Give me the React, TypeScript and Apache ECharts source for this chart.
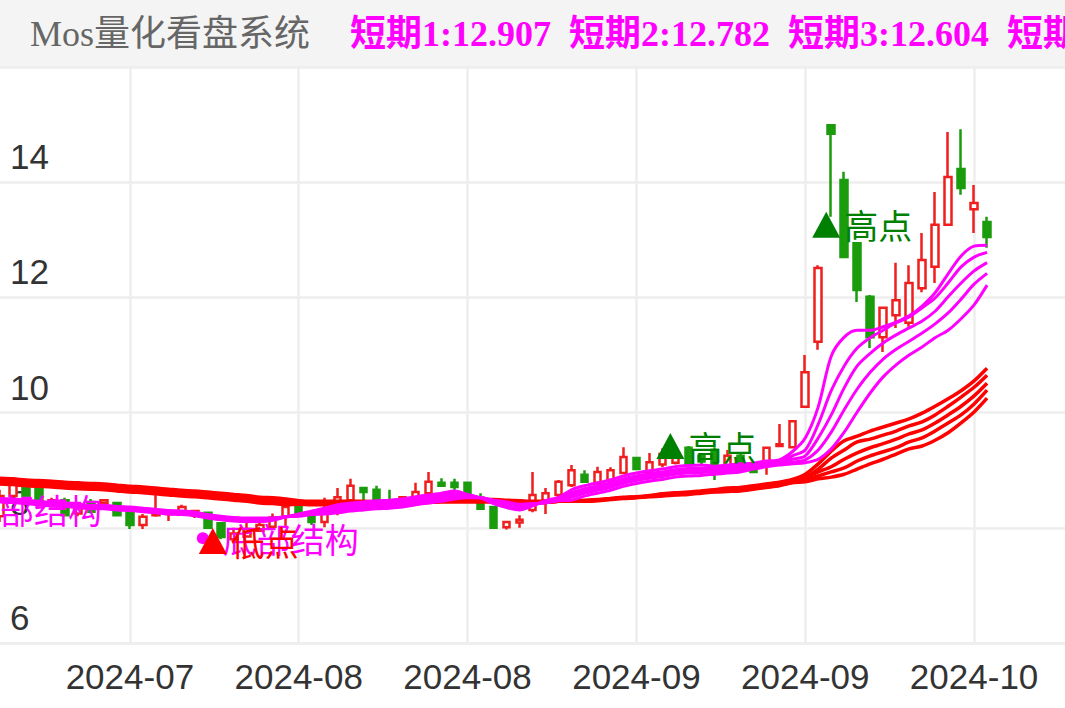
import React, { useEffect, useRef } from 'react';
import * as echarts from 'echarts';

// ---------- categories (one per day) ----------
const dates = [
  '2024-07-20','2024-07-21','2024-07-22','2024-07-23','2024-07-24','2024-07-25','2024-07-26','2024-07-27','2024-07-28','2024-07-29',
  '2024-07-30','2024-07-31','2024-08-01','2024-08-02','2024-08-03','2024-08-04','2024-08-05','2024-08-06','2024-08-07','2024-08-08',
  '2024-08-09','2024-08-10','2024-08-11','2024-08-12','2024-08-13','2024-08-14','2024-08-15','2024-08-16','2024-08-17','2024-08-18',
  '2024-08-19','2024-08-20','2024-08-21','2024-08-22','2024-08-23','2024-08-24','2024-08-25','2024-08-26','2024-08-27','2024-08-28',
  '2024-08-29','2024-08-30','2024-08-31','2024-09-01','2024-09-02','2024-09-03','2024-09-04','2024-09-05','2024-09-06','2024-09-07',
  '2024-09-08','2024-09-09','2024-09-10','2024-09-11','2024-09-12','2024-09-13','2024-09-14','2024-09-15','2024-09-16','2024-09-17',
  '2024-09-18','2024-09-19','2024-09-20','2024-09-21','2024-09-22','2024-09-23','2024-09-24','2024-09-25','2024-09-26','2024-09-27',
  '2024-09-28','2024-09-29','2024-09-30','2024-10-01','2024-10-02','2024-10-03','2024-10-04','2024-10-05','2024-10-06','2024-10-07',
  '2024-10-08','2024-10-09','2024-10-10',
];

// ---------- K-line values ----------
const openPrices = [
  8.20, 8.55, 8.70, 8.67, 8.40, 8.48, 8.25, 8.45, 8.43, 8.43,
  8.27, 8.05, 8.22, 8.24, 8.27, 8.22, 8.26, 8.08, 7.80, 7.85,
  7.95, 8.02, 8.19, 8.36, 8.27, 8.10, 8.27, 8.48, 8.69, 8.66,
  8.48, 8.45, 8.48, 8.60, 8.78, 8.78, 8.78, 8.52, 8.36, 8.01,
  8.09, 8.31, 8.48, 8.57, 8.74, 8.92, 8.78, 8.83, 8.95, 9.21,
  8.95, 9.10, 9.13, 9.39, 9.25, 9.35, 9.05, 9.25, 9.09, 9.09,
  9.42, 9.40, 10.10, 11.23, 14.99, 14.04, 12.94, 12.01, 11.31, 11.69,
  11.56, 12.16, 12.53, 13.26, 14.23, 13.53, 13.31,
];
const closePrices = [
  8.55, 8.75, 8.55, 8.40, 8.48, 8.22, 8.35, 8.28, 8.48, 8.22,
  8.05, 8.19, 8.27, 8.29, 8.36, 8.29, 8.00, 7.84, 7.90, 7.98,
  8.05, 8.18, 8.36, 8.22, 8.10, 8.26, 8.53, 8.73, 8.62, 8.48,
  8.45, 8.53, 8.62, 8.80, 8.73, 8.71, 8.57, 8.33, 8.00, 8.10,
  8.14, 8.57, 8.60, 8.80, 9.00, 8.80, 8.97, 9.00, 9.23, 9.02,
  9.14, 9.28, 9.30, 9.09, 9.15, 9.05, 9.25, 9.10, 8.97, 9.39,
  9.45, 9.85, 10.70, 12.51, 14.84, 12.70, 12.13, 11.31, 11.82, 11.95,
  12.25, 12.65, 13.26, 14.09, 13.90, 13.64, 13.05,
];
const lowPrices = [
  8.10, 8.45, 8.50, 8.36, 8.35, 8.20, 8.20, 8.25, 8.40, 8.20,
  7.98, 7.98, 8.19, 8.12, 8.24, 8.17, 7.98, 7.80, 7.78, 7.85,
  7.95, 8.00, 8.02, 8.19, 8.05, 8.01, 8.22, 8.43, 8.43, 8.45,
  8.45, 8.45, 8.45, 8.52, 8.71, 8.64, 8.57, 8.33, 8.00, 7.97,
  8.00, 8.27, 8.24, 8.53, 8.71, 8.80, 8.74, 8.80, 8.95, 9.02,
  8.93, 9.05, 9.10, 9.05, 9.10, 8.83, 9.00, 9.05, 8.95, 8.92,
  9.40, 9.38, 10.10, 11.09, 13.40, 12.70, 11.92, 11.12, 11.05, 11.47,
  11.49, 12.09, 12.25, 13.26, 13.78, 13.12, 12.86,
];
const highPrices = [
  8.66, 8.82, 8.75, 8.70, 8.52, 8.52, 8.40, 8.50, 8.50, 8.45,
  8.28, 8.24, 8.60, 8.30, 8.40, 8.31, 8.28, 8.10, 8.00, 8.10,
  8.15, 8.25, 8.40, 8.40, 8.31, 8.52, 8.69, 8.85, 8.69, 8.73,
  8.66, 8.53, 8.78, 8.97, 8.86, 8.85, 8.78, 8.60, 8.38, 8.12,
  8.22, 8.97, 8.69, 8.83, 9.09, 9.00, 9.06, 9.05, 9.40, 9.21,
  9.30, 9.38, 9.35, 9.42, 9.30, 9.40, 9.35, 9.30, 9.12, 9.39,
  9.80, 9.87, 11.00, 12.56, 14.99, 14.18, 12.94, 12.04, 11.82, 12.60,
  12.56, 13.12, 13.83, 14.87, 14.92, 13.95, 13.40,
];

// ---------- short-term lines (magenta) ----------
const short1 = [
  8.45, 8.44, 8.42, 8.40, 8.38, 8.37, 8.35, 8.33, 8.33, 8.31,
  8.30, 8.28, 8.26, 8.24, 8.23, 8.21, 8.17, 8.14, 8.12, 8.11,
  8.11, 8.13, 8.19, 8.24, 8.29, 8.34, 8.40, 8.43, 8.45, 8.47,
  8.48, 8.50, 8.54, 8.57, 8.60, 8.64, 8.58, 8.52, 8.42, 8.35,
  8.31, 8.38, 8.47, 8.53, 8.66, 8.73, 8.78, 8.83, 8.90, 8.95,
  8.99, 9.02, 9.06, 9.08, 9.09, 9.07, 9.09, 9.11, 9.12, 9.16,
  9.18, 9.32, 9.56, 10.10, 10.98, 11.31, 11.43, 11.43, 11.49, 11.57,
  11.68, 11.85, 12.08, 12.41, 12.72, 12.89, 12.907,
];
const short2 = [
  8.46, 8.45, 8.43, 8.41, 8.39, 8.38, 8.36, 8.34, 8.34, 8.32,
  8.31, 8.29, 8.27, 8.25, 8.24, 8.22, 8.18, 8.15, 8.13, 8.12,
  8.12, 8.14, 8.19, 8.23, 8.28, 8.32, 8.36, 8.39, 8.41, 8.43,
  8.44, 8.46, 8.50, 8.53, 8.56, 8.60, 8.57, 8.52, 8.43, 8.37,
  8.33, 8.39, 8.46, 8.52, 8.61, 8.68, 8.73, 8.78, 8.85, 8.90,
  8.94, 8.97, 9.01, 9.03, 9.04, 9.03, 9.05, 9.07, 9.10, 9.14,
  9.14, 9.25, 9.35, 9.80, 10.38, 10.81, 11.12, 11.30, 11.43, 11.56,
  11.66, 11.82, 11.99, 12.25, 12.53, 12.70, 12.782,
];
const short3 = [
  8.48, 8.47, 8.45, 8.43, 8.41, 8.40, 8.38, 8.36, 8.36, 8.34,
  8.33, 8.31, 8.29, 8.27, 8.26, 8.24, 8.20, 8.17, 8.15, 8.14,
  8.14, 8.15, 8.19, 8.22, 8.26, 8.29, 8.33, 8.36, 8.38, 8.40,
  8.41, 8.43, 8.47, 8.50, 8.53, 8.57, 8.55, 8.52, 8.45, 8.40,
  8.36, 8.40, 8.45, 8.50, 8.57, 8.64, 8.69, 8.74, 8.81, 8.86,
  8.90, 8.93, 8.97, 8.99, 9.00, 9.00, 9.02, 9.04, 9.07, 9.11,
  9.13, 9.19, 9.25, 9.56, 9.96, 10.43, 10.81, 11.03, 11.21, 11.35,
  11.47, 11.59, 11.76, 12.01, 12.25, 12.46, 12.604,
];
const short4 = [
  8.50, 8.49, 8.47, 8.45, 8.43, 8.42, 8.40, 8.38, 8.38, 8.36,
  8.35, 8.33, 8.31, 8.29, 8.28, 8.26, 8.22, 8.19, 8.17, 8.16,
  8.16, 8.16, 8.19, 8.21, 8.24, 8.26, 8.30, 8.33, 8.35, 8.37,
  8.38, 8.40, 8.44, 8.47, 8.50, 8.54, 8.53, 8.52, 8.47, 8.43,
  8.39, 8.41, 8.44, 8.48, 8.53, 8.60, 8.65, 8.70, 8.77, 8.82,
  8.86, 8.89, 8.93, 8.95, 8.96, 8.97, 8.99, 9.01, 9.04, 9.08,
  9.11, 9.14, 9.18, 9.35, 9.66, 10.05, 10.41, 10.70, 10.93, 11.10,
  11.24, 11.38, 11.54, 11.73, 11.97, 12.23, 12.418,
];
const short5 = [
  8.51, 8.50, 8.48, 8.46, 8.44, 8.43, 8.41, 8.39, 8.39, 8.37,
  8.36, 8.34, 8.32, 8.30, 8.29, 8.27, 8.23, 8.20, 8.18, 8.17,
  8.17, 8.17, 8.19, 8.20, 8.23, 8.24, 8.26, 8.29, 8.31, 8.33,
  8.34, 8.36, 8.40, 8.43, 8.46, 8.50, 8.52, 8.52, 8.48, 8.45,
  8.41, 8.42, 8.43, 8.47, 8.48, 8.55, 8.60, 8.65, 8.72, 8.77,
  8.81, 8.84, 8.88, 8.90, 8.91, 8.93, 8.95, 8.97, 9.02, 9.06,
  9.09, 9.11, 9.13, 9.19, 9.37, 9.66, 10.01, 10.34, 10.62, 10.83,
  11.00, 11.14, 11.30, 11.43, 11.63, 11.87, 12.213,
];

// ---------- long-term lines (red) ----------
const long1 = [
  8.76, 8.75, 8.73, 8.72, 8.71, 8.69, 8.68, 8.67, 8.66, 8.64,
  8.62, 8.61, 8.59, 8.57, 8.55, 8.54, 8.52, 8.50, 8.48, 8.46,
  8.43, 8.42, 8.40, 8.41, 8.40, 8.40, 8.40, 8.40, 8.40, 8.41,
  8.41, 8.42, 8.43, 8.44, 8.45, 8.45, 8.45, 8.45, 8.45, 8.44,
  8.43, 8.44, 8.44, 8.46, 8.47, 8.48, 8.49, 8.51, 8.53, 8.54,
  8.56, 8.59, 8.61, 8.62, 8.64, 8.66, 8.69, 8.70, 8.73, 8.76,
  8.79, 8.84, 8.93, 9.11, 9.33, 9.51, 9.59, 9.68, 9.75, 9.82,
  9.89, 9.99, 10.11, 10.24, 10.38, 10.55, 10.77,
];
const long2 = [
  8.78, 8.77, 8.75, 8.74, 8.73, 8.71, 8.70, 8.69, 8.68, 8.66,
  8.64, 8.63, 8.61, 8.59, 8.57, 8.56, 8.54, 8.52, 8.50, 8.48,
  8.45, 8.44, 8.42, 8.42, 8.41, 8.41, 8.41, 8.41, 8.41, 8.42,
  8.42, 8.43, 8.44, 8.45, 8.46, 8.46, 8.46, 8.46, 8.46, 8.45,
  8.44, 8.45, 8.45, 8.46, 8.47, 8.47, 8.48, 8.50, 8.52, 8.53,
  8.55, 8.58, 8.60, 8.61, 8.63, 8.65, 8.68, 8.69, 8.72, 8.75,
  8.78, 8.83, 8.88, 9.02, 9.21, 9.35, 9.49, 9.54, 9.61, 9.68,
  9.77, 9.84, 9.96, 10.11, 10.27, 10.44, 10.65,
];
const long3 = [
  8.81, 8.80, 8.78, 8.77, 8.76, 8.74, 8.73, 8.72, 8.71, 8.69,
  8.67, 8.66, 8.64, 8.62, 8.60, 8.59, 8.57, 8.55, 8.53, 8.51,
  8.48, 8.47, 8.45, 8.44, 8.43, 8.43, 8.43, 8.43, 8.43, 8.43,
  8.43, 8.44, 8.45, 8.46, 8.47, 8.47, 8.47, 8.47, 8.47, 8.46,
  8.45, 8.45, 8.45, 8.46, 8.47, 8.47, 8.48, 8.50, 8.52, 8.53,
  8.55, 8.57, 8.59, 8.60, 8.62, 8.64, 8.66, 8.67, 8.70, 8.73,
  8.76, 8.81, 8.87, 8.97, 9.06, 9.19, 9.30, 9.39, 9.46, 9.54,
  9.63, 9.70, 9.82, 9.96, 10.11, 10.29, 10.51,
];
const long4 = [
  8.84, 8.83, 8.81, 8.80, 8.79, 8.77, 8.76, 8.75, 8.74, 8.72,
  8.70, 8.69, 8.67, 8.65, 8.63, 8.62, 8.60, 8.58, 8.56, 8.54,
  8.51, 8.50, 8.48, 8.46, 8.45, 8.45, 8.45, 8.45, 8.45, 8.44,
  8.44, 8.45, 8.46, 8.47, 8.48, 8.48, 8.48, 8.48, 8.48, 8.47,
  8.46, 8.45, 8.45, 8.46, 8.47, 8.47, 8.48, 8.50, 8.52, 8.53,
  8.55, 8.56, 8.58, 8.59, 8.61, 8.63, 8.64, 8.65, 8.68, 8.71,
  8.74, 8.79, 8.83, 8.90, 8.97, 9.04, 9.16, 9.25, 9.32, 9.39,
  9.49, 9.56, 9.68, 9.82, 9.96, 10.15, 10.39,
];
const long5 = [
  8.86, 8.85, 8.83, 8.82, 8.81, 8.79, 8.78, 8.77, 8.76, 8.74,
  8.72, 8.71, 8.69, 8.67, 8.65, 8.64, 8.62, 8.60, 8.58, 8.56,
  8.53, 8.52, 8.50, 8.47, 8.46, 8.46, 8.46, 8.46, 8.46, 8.45,
  8.45, 8.46, 8.47, 8.48, 8.49, 8.49, 8.49, 8.49, 8.49, 8.48,
  8.47, 8.46, 8.46, 8.46, 8.47, 8.46, 8.47, 8.49, 8.51, 8.52,
  8.54, 8.55, 8.57, 8.58, 8.60, 8.62, 8.63, 8.64, 8.67, 8.70,
  8.73, 8.78, 8.80, 8.85, 8.88, 8.93, 9.02, 9.11, 9.19, 9.28,
  9.37, 9.42, 9.52, 9.65, 9.82, 10.01, 10.25,
];

// ---------- annotations ----------
const structureIndex = [0, 16];
const structureValue = [8.31, 7.82];
const structureText = ['底部结构', '底部结构'];

const signalIndex = [16, 51, 63];
const signalValue = [7.77, 9.42, 13.26];
const signalText = ['低点', '高点', '高点'];

const shortLines = [short1, short2, short3, short4, short5];
const longLines = [long1, long2, long3, long4, long5];

const SERIF = "'Liberation Serif', 'Times New Roman', 'Noto Sans CJK SC', serif";
const SANS = "'Liberation Sans', Arial, Helvetica, sans-serif";
const CJK = "'Noto Sans CJK SC', sans-serif";

export default function App() {
  const ref = useRef<HTMLDivElement>(null);

  useEffect(() => {
    document.body.style.margin = '0';
    const chart = echarts.init(ref.current as HTMLDivElement, null, { renderer: 'svg' });

    const candleData = openPrices.map((o, i) => [o, closePrices[i], lowPrices[i], highPrices[i]]);
    const headerText = shortLines
      .map((s, k) => `短期${k + 1}:${s[s.length - 1].toFixed(3)}`)
      .concat(longLines.map((s, k) => `长期${k + 1}:${s[s.length - 1].toFixed(3)}`))
      .join('  ');

    const showIdx = (i: number) => i >= 10 && (i - 10) % 13 === 0;
    const gridLine = { color: '#eeeeee', width: 2.5 };

    const structureOffsets = [[-54, 0], [-5, 0]];
    const signalOffsets = [[5, 0], [8, 0], [8, 0]];
    const signalColors = ['#ff0000', '#008000', '#008000'];

    const option: any = {
      animation: false,
      backgroundColor: '#ffffff',
      graphic: [
        {
          type: 'rect',
          left: 0,
          top: 0,
          z: 0,
          silent: true,
          shape: { width: 1065, height: 67 },
          style: { fill: '#f4f4f4' },
        },
      ],
      title: [
        {
          text: 'Mos量化看盘系统',
          left: 30,
          top: 16,
          padding: 0,
          z: 10,
          textStyle: { fontSize: 36, fontWeight: 'normal', color: '#666666', fontFamily: SERIF },
        },
        {
          text: headerText,
          left: 350,
          top: 16,
          padding: 0,
          z: 10,
          textStyle: { fontSize: 36, fontWeight: 'bold', color: '#ff00ff', fontFamily: SERIF },
        },
      ],
      grid: { left: 0, right: 0, top: 67, bottom: 65 },
      xAxis: {
        type: 'category',
        data: dates,
        boundaryGap: false,
        axisLine: { show: true, lineStyle: gridLine },
        axisTick: { show: false },
        axisLabel: {
          interval: (i: number) => showIdx(i),
          formatter: (v: string) => v.slice(0, 7),
          fontSize: 35,
          color: '#333333',
          fontFamily: SANS,
          margin: 16,
        },
        splitLine: { show: true, interval: (i: number) => showIdx(i), lineStyle: gridLine },
      },
      yAxis: {
        type: 'value',
        min: 6,
        max: 16,
        interval: 2,
        position: 'left',
        axisLine: { show: false },
        axisTick: { show: false },
        axisLabel: {
          inside: true,
          margin: 10,
          verticalAlign: 'bottom',
          padding: [0, 0, 8, 0],
          fontSize: 35,
          color: '#333333',
          fontFamily: SANS,
          showMaxLabel: false,
        },
        splitLine: { show: true, lineStyle: gridLine },
      },
      series: [
        {
          type: 'candlestick',
          data: candleData,
          barWidth: 7,
          silent: true,
          itemStyle: {
            color: '#ffffff',
            color0: '#1a9c0c',
            borderColor: '#f01e1e',
            borderColor0: '#1a9c0c',
            borderWidth: 2.5,
          },
          z: 2,
        },
        ...longLines.map((d, k) => ({
          type: 'line',
          name: `长期${k + 1}`,
          data: d,
          showSymbol: false,
          smooth: 0.3,
          silent: true,
          lineStyle: { color: '#ff0000', width: 3.5 },
          z: 3,
        })),
        ...shortLines.map((d, k) => ({
          type: 'line',
          name: `短期${k + 1}`,
          data: d,
          showSymbol: false,
          smooth: 0.3,
          silent: true,
          lineStyle: { color: '#ff00ff', width: 3 },
          z: 4,
        })),
        {
          type: 'scatter',
          silent: true,
          clip: false,
          z: 5,
          symbol: 'circle',
          symbolSize: 12,
          itemStyle: { color: '#ff00ff', opacity: 1 },
          data: structureIndex.map((idx, k) => ({
            value: [dates[idx], structureValue[k]],
            symbolOffset: structureOffsets[k],
            label: { formatter: structureText[k] },
          })),
          label: {
            show: true,
            position: 'right',
            distance: 14,
            color: '#ff00ff',
            fontSize: 34,
            fontFamily: CJK,
          },
        },
        {
          type: 'scatter',
          silent: true,
          clip: false,
          z: 6,
          symbol: 'triangle',
          symbolSize: [28, 26],
          data: signalIndex.map((idx, k) => ({
            value: [dates[idx], signalValue[k]],
            symbolOffset: signalOffsets[k],
            itemStyle: { color: signalColors[k], opacity: 1 },
            label: { formatter: signalText[k], color: signalColors[k] },
          })),
          label: {
            show: true,
            position: 'right',
            distance: 4,
            fontSize: 34,
            fontFamily: CJK,
          },
        },
      ],
    };

    chart.setOption(option);
    return () => chart.dispose();
  }, []);

  return <div ref={ref} style={{ width: 1065, height: 708 }} />;
}
